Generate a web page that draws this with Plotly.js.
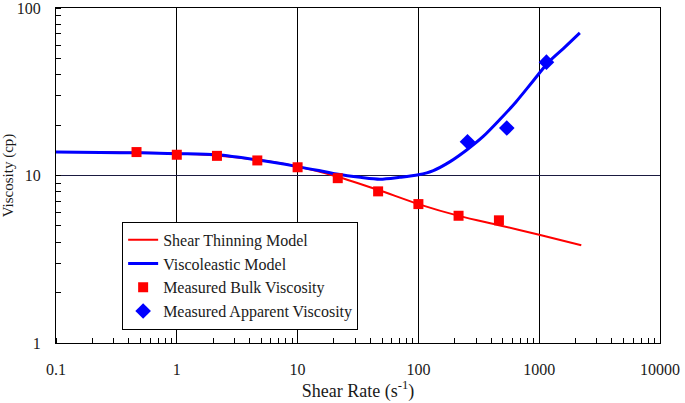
<!DOCTYPE html>
<html>
<head>
<meta charset="utf-8">
<script src="https://cdn.plot.ly/plotly-3.0.1.min.js"></script>
<style>html,body{margin:0;padding:0;background:#fff;}#chart{width:685px;height:403px;}</style>
</head>
<body>
<div id="chart"></div>
<script>
// Shear thinning model curve
const thinX = [0.1, 0.3, 1, 2, 4.6, 10, 21, 46, 100, 220, 464, 1000, 2230];
const thinY = [13.8, 13.75, 13.55, 13.2, 12.4, 11.3, 9.87, 8.22, 6.75, 5.72, 5.05, 4.43, 3.83];
// Viscoelastic model curve
const viscoX = [0.1, 0.233, 0.5, 1, 2.15, 4.6, 10, 15, 21, 33, 48, 70, 100, 133, 183, 251, 344, 470, 642, 880, 1200, 1640, 2170];
const viscoY = [13.8, 13.7, 13.65, 13.5, 13.3, 12.4, 11.3, 10.7, 10.2, 9.75, 9.5, 9.75, 10.1, 10.7, 12.1, 14.2, 17.1, 21.5, 27.5, 36.3, 47.7, 58.6, 71.0];
// Measured bulk viscosity
const bulkX = [0.464, 1, 2.15, 4.64, 10, 21.5, 46.4, 100, 215, 464];
const bulkY = [13.8, 13.3, 13.1, 12.3, 11.2, 9.64, 8.04, 6.75, 5.75, 5.40];
// Measured apparent viscosity
const appX = [255, 539, 1148];
const appY = [15.9, 19.2, 47.5];
// Tick labels
const xTicks = [0.1, 1, 10, 100, 1000, 10000];
const xTickText = ['0.1', '1', '10', '100', '1000', '10000'];
const yTicks = [1, 10, 100];
const yTickText = ['1', '10', '100'];

const FONT = 'Liberation Serif, Times New Roman, serif';
const traces = [
  {x: thinX, y: thinY, mode: 'lines', name: 'Shear Thinning Model',
   line: {color: '#ff0000', width: 2, shape: 'spline', smoothing: 0.8}},
  {x: viscoX, y: viscoY, mode: 'lines', name: 'Viscoleastic Model',
   line: {color: '#0000ff', width: 3, shape: 'spline', smoothing: 0.8}},
  {x: bulkX, y: bulkY, mode: 'markers', name: 'Measured Bulk Viscosity',
   marker: {color: '#ff0000', symbol: 'square', size: 10}},
  {x: appX, y: appY, mode: 'markers', name: 'Measured Apparent Viscosity',
   marker: {color: '#0000ff', symbol: 'diamond', size: 12}}
];

const layout = {
  width: 685, height: 403,
  margin: {l: 55.5, r: 25, t: 8, b: 60, pad: 0},
  paper_bgcolor: '#fff', plot_bgcolor: '#fff',
  font: {family: FONT, size: 16, color: '#1a1a1a'},
  showlegend: true,
  legend: {x: 0.1095, y: 0.362, xanchor: 'left', yanchor: 'top',
           bgcolor: '#fff', bordercolor: '#000', borderwidth: 1,
           font: {family: FONT, size: 16, color: '#1a1a1a'}, traceorder: 'normal'},
  xaxis: {type: 'log', range: [-1, 4],
          tickmode: 'array', tickvals: xTicks, ticktext: xTickText,
          showline: true, mirror: true, linecolor: '#000', linewidth: 1,
          showgrid: true, gridcolor: '#000', gridwidth: 1,
          ticks: '', ticklabelstandoff: 12, ticklabeloverflow: 'allow',
          minor: {ticks: 'inside', ticklen: 5, tickcolor: '#000', dtick: 'D1', showgrid: false},
          zeroline: false,
          title: {text: 'Shear Rate (s<sup>-1</sup>)', standoff: 5, font: {family: FONT, size: 18}}},
  yaxis: {type: 'log', range: [0, 2],
          tickmode: 'array', tickvals: yTicks, ticktext: yTickText,
          showline: true, mirror: true, linecolor: '#000', linewidth: 1,
          showgrid: true, gridcolor: '#1a1a40', gridwidth: 1,
          ticks: '', ticklabelstandoff: 11, ticklabeloverflow: 'allow',
          minor: {ticks: 'inside', ticklen: 5, tickcolor: '#000', dtick: 'D1', showgrid: false},
          zeroline: false,
          title: {text: 'Viscosity (cp)', standoff: 8, font: {family: FONT, size: 15}}}
};

Plotly.newPlot('chart', traces, layout, {staticPlot: true, displayModeBar: false});
</script>
</body>
</html>
